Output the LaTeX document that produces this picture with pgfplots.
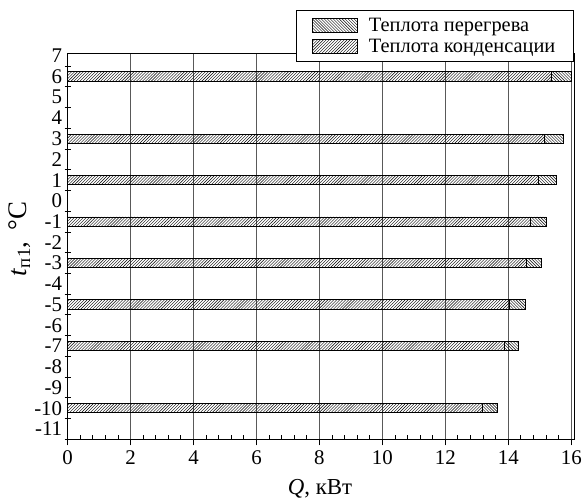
\documentclass[border=0pt]{standalone}
\usepackage{fontspec}
\setmainfont{Liberation Serif}
\usepackage{pgfplots}
\pgfplotsset{compat=1.18}
\usetikzlibrary{patterns,calc}

\begin{document}
\begin{tikzpicture}
\begin{axis}[
  scale only axis, width=509.7bp, height=387.8bp,
  xbar stacked, bar width=0.45,
  xmin=0, xmax=16.1, ymin=-11.5, ymax=7.1,
  xtick={0,2,...,16}, minor x tick num=4,
  ytick={-11.5,-10.5,...,6.5},
  yticklabels={-11,-10,-9,-8,-7,-6,-5,-4,-3,-2,-1,0,1,2,3,4,5,6,7},
  yticklabel style={yshift=10.4bp, xshift=1bp},
  tick pos=left,
  xtick align=inside, ytick align=center,
  major tick length=6bp, minor tick length=4bp,
  major x tick style={yshift=-6bp},
  tick style={black, line width=0.9bp},
  xmajorgrids, major grid style={black!65, line width=0.8bp},
  axis line style={black, line width=1bp},
  /pgf/number format/assume math mode=true,
  tick label style={font=\fontsize{21bp}{23bp}\selectfont},
  xticklabel style={yshift=-8bp},
  xlabel={\textit{Q}, кВт},
  ylabel={\textit{t}\textsubscript{п1},\, °C},
  xlabel style={font=\fontsize{23bp}{26bp}\selectfont, at={(axis description cs:0.498,-0.129)}, anchor=center},
  ylabel style={font=\fontsize{27bp}{30bp}\selectfont, at={(axis description cs:-0.095,0.52)}, anchor=center},
  legend image code/.code={\draw[#1] (0bp,-7bp) rectangle (45bp,7bp);},
  reverse legend,
  legend cell align=left,
  legend style={at={(0.451,1.1135)}, anchor=north west, draw=black, line width=0.8bp,
    font=\fontsize{20.5bp}{22bp}\selectfont, inner xsep=16bp, inner ysep=6bp,
    column sep=9bp, row sep=2bp, fill=white},
]
\addplot[draw=black, line width=0.8bp, pattern=north east lines] coordinates {
  (15.36,6) (15.16,3) (14.94,1) (14.70,-1) (14.59,-3) (14.04,-5) (13.87,-7) (13.19,-10)
};
\addplot[draw=black, line width=0.8bp, pattern=north west lines] coordinates {
  (0.66,6) (0.58,3) (0.58,1) (0.51,-1) (0.45,-3) (0.51,-5) (0.45,-7) (0.45,-10)
};
\legend{Теплота конденсации, Теплота перегрева}
\end{axis}
\path ($(current axis.south west)+(-68bp,-64bp)$) rectangle ($(current axis.north east)+(7bp,54bp)$);
\end{tikzpicture}
\end{document}
